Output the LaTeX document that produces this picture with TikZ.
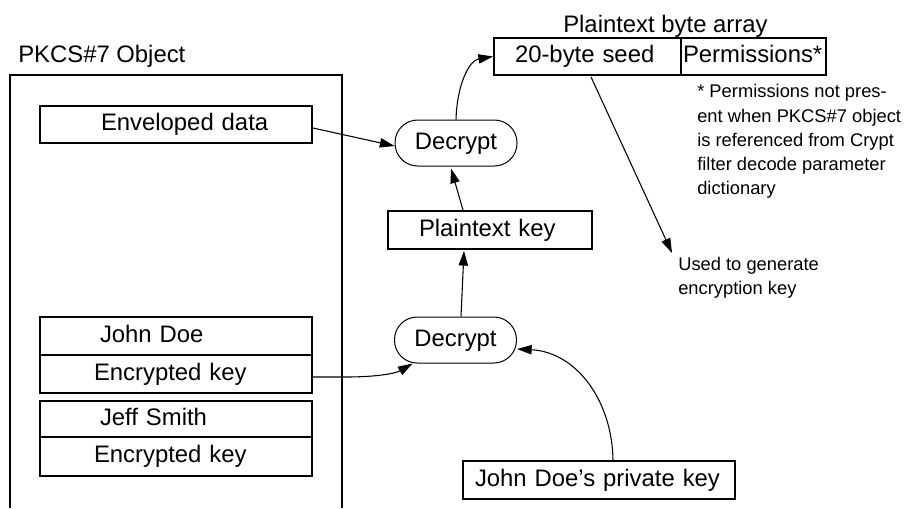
\documentclass[tikz,border=0pt]{standalone}
\usepackage{fontspec}
\setmainfont{Liberation Sans}
\usetikzlibrary{arrows.meta,calc}
\newcommand{\labelfont}{\fontsize{17.9pt}{21pt}\selectfont}
\newcommand{\notefont}{\fontsize{13.75pt}{18.2pt}\selectfont}
% box: name, x1, y1, x2, y2, text inset, text
\newcommand{\pxbox}[7]{%
  \pgfmathsetmacro{\bw}{(#4-#2)*0.75}%
  \pgfmathsetmacro{\bh}{(#5-#3)*0.75}%
  \node[boxnode,text width=\bw pt,minimum height=\bh pt] (#1)
    at ({(#2+#4)/2},{(#3+#5)/2}) {\hspace*{#6\pxunit}#7};}
\newlength{\pxunit}
\setlength{\pxunit}{0.75pt}
\begin{document}
\begin{tikzpicture}[x=0.75pt,y=-0.75pt,
  boxnode/.style={draw,line width=1.4pt,inner xsep=0pt,inner ysep=0pt,align=left,
    font=\labelfont,text height=12pt,text depth=3pt},
  pill/.style={draw,line width=0.75pt,rounded corners=17pt,inner sep=0pt,
    minimum width=91.5pt,minimum height=34.5pt,font=\labelfont,
    text height=12pt,text depth=3pt},
  plain/.style={inner sep=0pt,font=\labelfont},
  note/.style={inner sep=0pt,font=\notefont,align=left},
  conn/.style={line width=0.8pt,-{Triangle[length=11pt,width=7pt]}},
  frame/.style={line width=1.4pt}]
\useasboundingbox (0,0) rectangle (905,508);
\draw[frame] (10,508) -- (10,75) -- (342,75) -- (342,508);
\node[plain,anchor=base west] (pkcs) at (18,62) {PKCS\#7 Object};
\node[plain,anchor=base west] (array) at (563,32) {Plaintext byte array};

\pxbox{env}{40}{106}{312}{143}{61}{Enveloped data}
\pxbox{john}{40}{317}{312}{355}{60}{John Doe}
\pxbox{key1}{40}{355}{312}{393}{54}{Encrypted key}
\pxbox{jeff}{40}{401}{312}{437}{60}{Jeff Smith}
\pxbox{key2}{40}{437}{312}{476}{54}{Encrypted key}
\pxbox{seed}{494}{38}{681}{75}{21}{20-byte seed}
\pxbox{perm}{681}{38}{826}{75}{2}{Permissions*}
\pxbox{plainkey}{388}{211}{592}{249}{31}{Plaintext key}
\pxbox{priv}{463}{461}{735}{499}{12}{John Doe’s private key}

\node[pill] (dec1) at (456,143) {Decrypt};
\node[pill] (dec2) at (455.5,340) {Decrypt};

\node[note,anchor=north west] (perm note) at (697,84.2) {* Permissions not pres-\\ent when PKCS\#7 object\\is referenced from Crypt\\filter decode parameter\\dictionary};
\node[note,anchor=north west] (used) at (678,256.7) {Used to generate\\encryption key};
\coordinate (usedtip) at (672,253);

\draw[conn] ($(env.east)+(0,3.5)$) -- ($(dec1.west)+(0,3)$);
\draw[conn] (dec1.north) .. controls ($(dec1.north)+(1,-35)$) and ($(seed.west)+(-24,4)$) .. (seed.west);
\draw[conn] ($(plainkey.north)+(-27,0)$) -- ($(dec1.south)+(-5,2)$);
\draw[conn] ($(dec2.north)+(5.5,0)$) -- ($(plainkey.south)+(-26,1)$);
\draw[conn] ($(seed.south)+(3.5,1)$) -- (usedtip);
\draw[conn] ($(key1.east)+(0,3)$) -- ($(key1.east)+(33,3)$) .. controls ($(key1.east)+(63,3)$) and ($(dec2.south)+(-60,10)$) .. ($(dec2.south)+(-43,0)$);
\draw[conn] ($(priv.north)+(14,0)$) .. controls ($(priv.north)+(13,-60)$) and ($(dec2.east)+(59,12)$) .. ($(dec2.east)+(0,9)$);
\end{tikzpicture}
\end{document}
